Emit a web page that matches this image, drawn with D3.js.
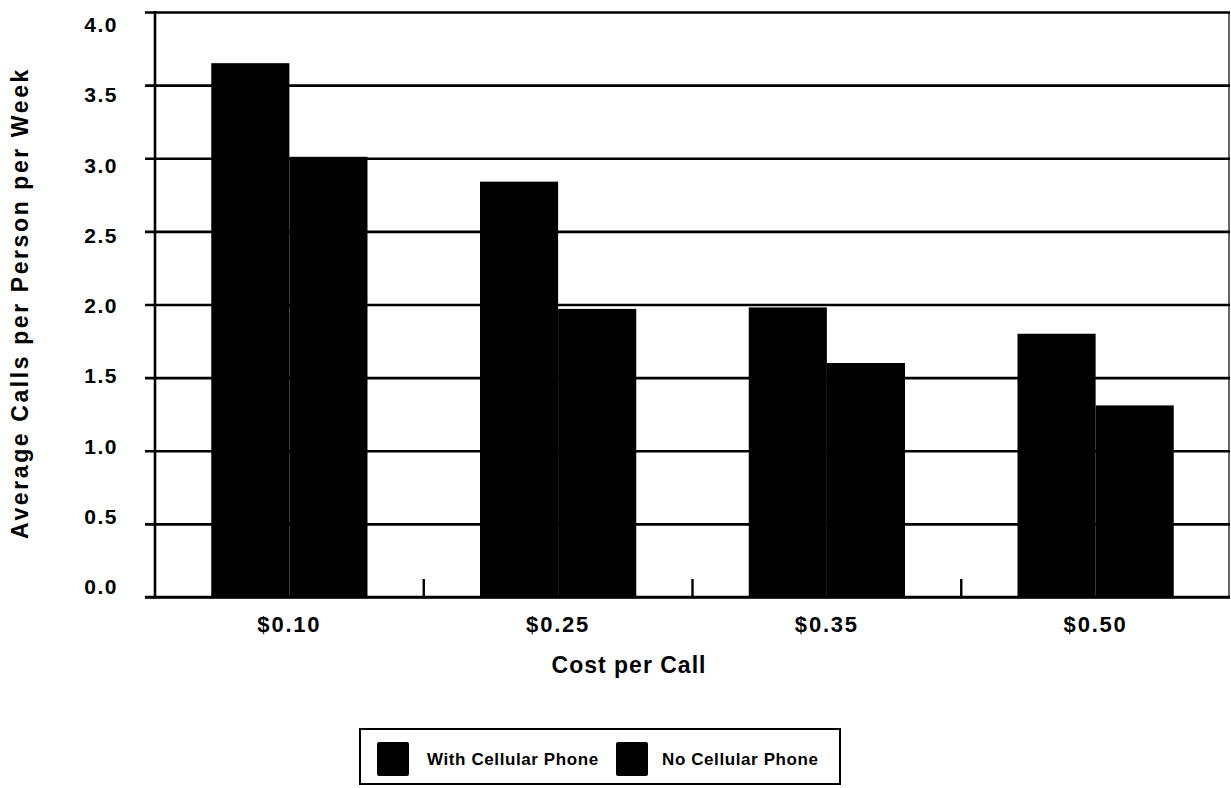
<!DOCTYPE html>
<html>
<head>
<meta charset="utf-8">
<script src="https://cdn.jsdelivr.net/npm/d3@7"></script>
<style>
  html, body { margin: 0; padding: 0; background: #fff; }
  svg { display: block; }
  text { font-family: "Liberation Sans", Arial, sans-serif; fill: #000; }
</style>
</head>
<body>
<svg id="chart" width="1231" height="788"></svg>
<script>
// Average calls per person per week, by cost per call
const categories = ["$0.10", "$0.25", "$0.35", "$0.50"];
const seriesNames = ["With Cellular Phone", "No Cellular Phone"];
const withCellular = [3.65, 2.84, 1.98, 1.80];
const noCellular = [3.01, 1.97, 1.60, 1.31];
const yTicks = [0, 0.5, 1.0, 1.5, 2.0, 2.5, 3.0, 3.5, 4.0];
const seriesColors = ["#000000", "#000000"];

const rows = categories.map((c, i) => ({ cat: c, values: [withCellular[i], noCellular[i]] }));

const svg = d3.select("#chart");
const plotLeft = 155, plotRight = 1230, plotTop = 12, plotBottom = 597;

const x = d3.scaleBand().domain(categories).range([plotLeft, plotRight]).padding(0);
const xs = d3.scaleBand().domain(d3.range(seriesNames.length))
  .range([0, x.bandwidth()]).paddingInner(0).paddingOuter(0.72);
const y = d3.scaleLinear().domain([0, 4]).range([plotBottom, plotTop]);
// value labels sit on a slightly tighter scale than the gridlines
const yLabel = d3.scaleLinear().domain([0, 4]).range([587, 25]);

// horizontal gridlines, extended left past the axis as tick marks
const yGrid = d3.axisLeft(y).tickValues(yTicks).tickFormat("")
  .tickSize(-(plotRight - plotLeft)).tickSizeOuter(0);
const gy = svg.append("g").attr("transform", `translate(${plotLeft},0)`).call(yGrid);
gy.select(".domain").remove();
gy.selectAll(".tick line").attr("x1", -10).attr("stroke", "#000").attr("stroke-width", 2.6);

const yText = d3.axisLeft(yLabel).tickValues(yTicks).tickFormat(d3.format(".1f"))
  .tickSize(0).tickPadding(37);
const gyt = svg.append("g").attr("transform", `translate(${plotLeft},0)`).call(yText);
gyt.select(".domain").remove();
gyt.selectAll(".tick text")
  .attr("font-size", 21).attr("font-weight", "bold").attr("letter-spacing", 1.5)
  .attr("fill", "#000");

// bars
const groups = svg.append("g").selectAll("g").data(rows).join("g")
  .attr("transform", d => `translate(${x(d.cat)},0)`);
groups.selectAll("rect").data(d => d.values.map((v, i) => ({ v, i }))).join("rect")
  .attr("x", d => xs(d.i))
  .attr("width", xs.bandwidth())
  .attr("y", d => y(d.v))
  .attr("height", d => y(0) - y(d.v))
  .attr("fill", d => seriesColors[d.i]);

// left axis line and right frame edge
svg.append("line").attr("x1", plotLeft).attr("x2", plotLeft).attr("y1", plotTop - 1).attr("y2", plotBottom + 1)
  .attr("stroke", "#000").attr("stroke-width", 2.6);
svg.append("line").attr("x1", plotRight - 1).attr("x2", plotRight - 1).attr("y1", plotTop).attr("y2", plotBottom)
  .attr("stroke", "#000").attr("stroke-width", 1.2);

// category axis: ticks between groups point upward
const xAxis = d3.axisBottom(x).tickSize(0).tickPadding(19).tickSizeOuter(0);
const gx = svg.append("g").attr("transform", `translate(0,${plotBottom})`).call(xAxis);
gx.select(".domain").remove();
gx.selectAll(".tick text").attr("font-size", 22).attr("font-weight", "bold")
  .attr("letter-spacing", 1.8).attr("fill", "#000");
svg.append("line").attr("x1", plotLeft - 10).attr("x2", plotRight).attr("y1", plotBottom).attr("y2", plotBottom)
  .attr("stroke", "#000").attr("stroke-width", 2.6);
svg.append("g").selectAll("line").data(categories.slice(1)).join("line")
  .attr("x1", d => x(d)).attr("x2", d => x(d))
  .attr("y1", plotBottom).attr("y2", plotBottom - 18)
  .attr("stroke", "#000").attr("stroke-width", 2.4);

// axis titles
svg.append("text").attr("x", 629).attr("y", 673).attr("text-anchor", "middle")
  .attr("font-size", 23).attr("font-weight", "bold").attr("letter-spacing", 1)
  .text("Cost per Call");
svg.append("text").attr("transform", "translate(28,303) rotate(-90)").attr("text-anchor", "middle")
  .attr("font-size", 23).attr("font-weight", "bold").attr("letter-spacing", 2.6)
  .text("Average Calls per Person per Week");

// legend
const legend = svg.append("g");
legend.append("rect").attr("x", 360).attr("y", 729).attr("width", 480).attr("height", 55)
  .attr("fill", "#fff").attr("stroke", "#000").attr("stroke-width", 2);
const legendPos = [{ sx: 377, tx: 427 }, { sx: 616, tx: 662 }];
const li = legend.selectAll("g.item").data(seriesNames).join("g").attr("class", "item");
li.append("rect").attr("x", (d, i) => legendPos[i].sx).attr("y", 742)
  .attr("width", 32).attr("height", 34).attr("rx", 2)
  .attr("fill", (d, i) => seriesColors[i]);
li.append("text").attr("x", (d, i) => legendPos[i].tx).attr("y", 765)
  .attr("font-size", 17).attr("font-weight", "bold").attr("letter-spacing", 0.6)
  .text(d => d);
</script>
</body>
</html>
